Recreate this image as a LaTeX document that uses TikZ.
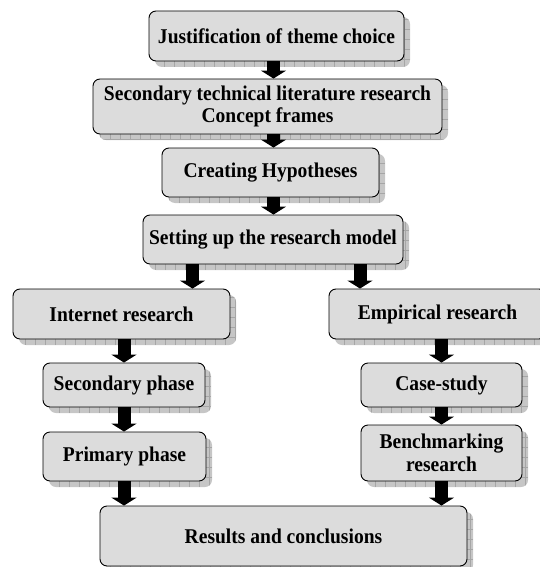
\documentclass[tikz,border=0pt]{standalone}
\usepackage{fontspec}
\setmainfont{Liberation Serif}[FakeStretch=0.93]
\usetikzlibrary{arrows.meta}
\definecolor{boxfill}{HTML}{DCDCDC}
\definecolor{shadefill}{HTML}{C6C6C6}
\definecolor{shadeline}{HTML}{A6A6A6}
\begin{document}
\begin{tikzpicture}[x=1pt,y=-1pt,
  flowbox/.style={draw=black, line width=0.9pt, fill=boxfill, rounded corners=7pt,
    inner sep=0pt, align=center, text=black,
    font=\bfseries\fontsize{21}{22.5}\selectfont,
    preaction={draw=none, fill=shadefill, transform canvas={xshift=6pt,yshift=-6pt},
      path picture={\draw[shadeline, line width=0.5pt, step=10pt]
        (path picture bounding box.south west) grid (path picture bounding box.north east);}}},
  blockarrow/.style={draw=black, line width=13pt, -{Triangle[length=8pt,width=25pt]}}]
\path[use as bounding box, clip] (0,0) rectangle (540,567);

\node[flowbox, minimum width=255pt, minimum height=50pt] (b1) at (276.5,36) {Justification of theme choice};
\node[flowbox, minimum width=349pt, minimum height=55pt] (b2) at (267.5,106.5) {Secondary technical literature research\\Concept frames};
\node[flowbox, minimum width=217pt, minimum height=49pt] (b3) at (270.5,172.5) {Creating Hypotheses};
\node[flowbox, minimum width=260pt, minimum height=49pt] (b4) at (273,239.5) {Setting up the research model};
\node[flowbox, minimum width=217pt, minimum height=50pt] (b5) at (121.5,314) {Internet research};
\node[flowbox, minimum width=217pt, minimum height=50pt] (b6) at (437.5,314) {Empirical research};
\node[flowbox, minimum width=162pt, minimum height=44pt] (b7) at (124,385) {Secondary phase};
\node[flowbox, minimum width=161pt, minimum height=44pt] (b8) at (441.5,385) {Case-study};
\node[flowbox, minimum width=163pt, minimum height=49pt] (b9) at (124.5,456.5) {Primary phase};
\node[flowbox, minimum width=161pt, minimum height=56pt] (b10) at (441.5,453) {Benchmarking\\research};
\node[flowbox, minimum width=367pt, minimum height=60pt] (b11) at (283.5,536) {Results and conclusions};

\coordinate (mc) at (273.5,0);
\coordinate (lb) at (192.5,0);
\coordinate (rb) at (360,0);
\coordinate (lc) at (124,0);
\coordinate (rc) at (441.5,0);

\draw[blockarrow] (b1.south -| mc) -- (b2.north -| mc);
\draw[blockarrow] (b2.south -| mc) -- (b3.north -| mc);
\draw[blockarrow] (b3.south -| mc) -- (b4.north -| mc);
\draw[blockarrow] (b4.south -| lb) -- (b5.north -| lb);
\draw[blockarrow] (b4.south -| rb) -- (b6.north -| rb);
\draw[blockarrow] (b5.south -| lc) -- (b7.north -| lc);
\draw[blockarrow] (b7.south -| lc) -- (b9.north -| lc);
\draw[blockarrow] (b9.south -| lc) -- (b11.north -| lc);
\draw[blockarrow] (b6.south -| rc) -- (b8.north -| rc);
\draw[blockarrow] (b8.south -| rc) -- (b10.north -| rc);
\draw[blockarrow] (b10.south -| rc) -- (b11.north -| rc);
\end{tikzpicture}
\end{document}
